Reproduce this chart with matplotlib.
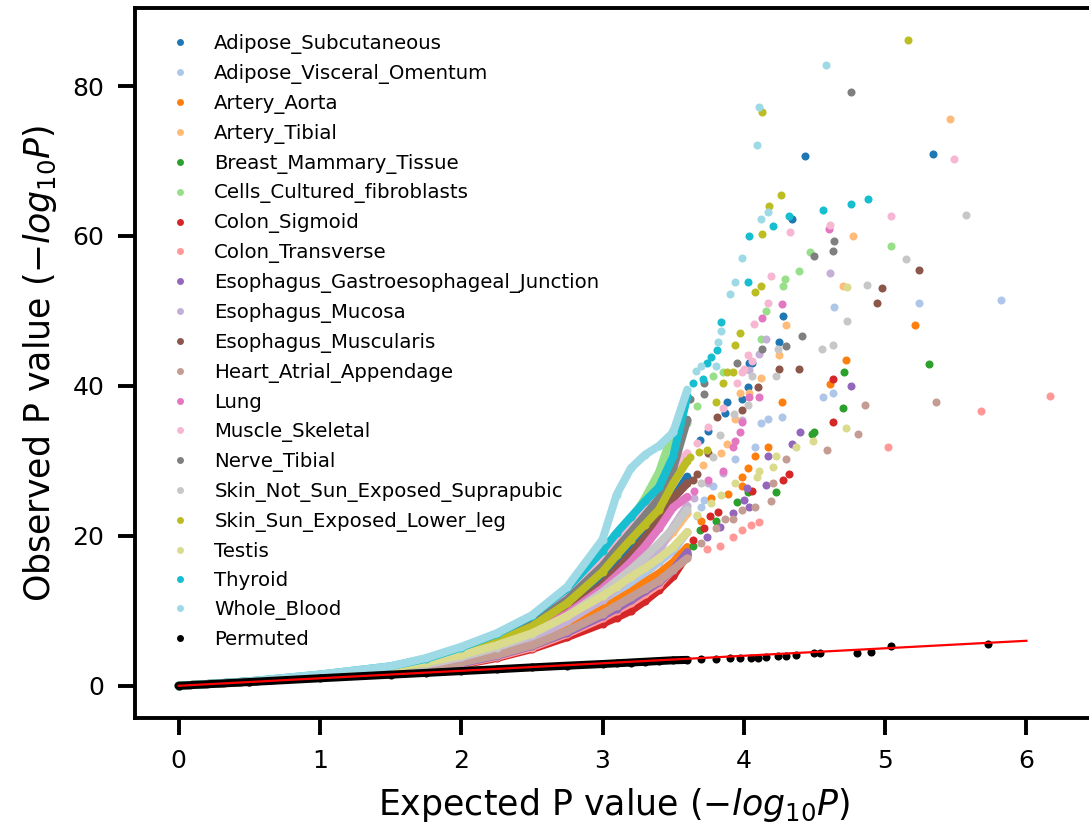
import matplotlib
matplotlib.use("Agg")
import matplotlib.pyplot as plt
from matplotlib.lines import Line2D

# Expected -log10(P) positions at which the dense part of each QQ curve is sampled
band_x = [0.0, 0.5, 1.0, 1.5, 1.75, 2.0, 2.25, 2.5, 2.75, 3.0, 3.1, 3.2, 3.3, 3.4, 3.5, 3.6]

tissues = [
    "Adipose_Subcutaneous", "Adipose_Visceral_Omentum", "Artery_Aorta", "Artery_Tibial",
    "Breast_Mammary_Tissue", "Cells_Cultured_fibroblasts", "Colon_Sigmoid", "Colon_Transverse",
    "Esophagus_Gastroesophageal_Junction", "Esophagus_Mucosa", "Esophagus_Muscularis",
    "Heart_Atrial_Appendage", "Lung", "Muscle_Skeletal", "Nerve_Tibial",
    "Skin_Not_Sun_Exposed_Suprapubic", "Skin_Sun_Exposed_Lower_leg", "Testis", "Thyroid",
    "Whole_Blood",
]

# Observed -log10(P) along band_x, one list per tissue
adipose_subcutaneous_band = [0, 0.56, 1.3, 2.2, 2.9, 4.0, 5.5, 7.4, 10.3, 14.0, 16.2, 18.5, 20.4, 22.5, 25.0, 27.9]
adipose_visceral_band = [0, 0.55, 1.22, 1.95, 2.55, 3.4, 4.5, 6.0, 8.2, 10.8, 12.1, 13.5, 15.0, 16.5, 18.0, 20.5]
artery_aorta_band = [0, 0.55, 1.2, 1.9, 2.45, 3.2, 4.3, 5.7, 7.7, 10.2, 11.4, 12.5, 13.8, 15.0, 16.5, 18.5]
artery_tibial_band = [0, 0.55, 1.25, 2.05, 2.7, 3.6, 4.9, 6.5, 8.9, 12.0, 13.5, 15.0, 16.6, 18.5, 20.5, 23.0]
breast_band = [0, 0.55, 1.18, 1.8, 2.3, 2.95, 3.9, 5.2, 7.0, 9.2, 10.2, 11.2, 12.3, 13.5, 15.0, 17.5]
fibroblasts_band = [0, 0.58, 1.4, 2.4, 3.3, 4.6, 6.3, 8.6, 12.2, 17.0, 19.6, 22.0, 25.0, 28.5, 34.0, 35.0]
colon_sigmoid_band = [0, 0.55, 1.15, 1.75, 2.2, 2.8, 3.7, 4.9, 6.5, 8.3, 9.1, 10.0, 11.3, 12.8, 14.6, 17.5]
colon_transverse_band = [0, 0.55, 1.18, 1.8, 2.3, 2.9, 3.85, 5.1, 6.9, 9.0, 10.0, 11.0, 12.2, 13.5, 15.5, 17.2]
esophagus_gej_band = [0, 0.55, 1.18, 1.82, 2.35, 3.0, 4.0, 5.3, 7.1, 9.3, 10.3, 11.4, 12.6, 13.8, 15.5, 17.8]
esophagus_mucosa_band = [0, 0.55, 1.25, 2.0, 2.65, 3.5, 4.7, 6.3, 8.6, 11.5, 13.0, 14.5, 16.2, 18.0, 21.2, 24.0]
esophagus_muscularis_band = [0, 0.56, 1.3, 2.15, 2.85, 3.9, 5.3, 7.1, 9.9, 13.5, 15.5, 17.5, 19.7, 22.0, 25.0, 27.0]
heart_atrial_band = [0, 0.55, 1.2, 1.85, 2.4, 3.1, 4.1, 5.4, 7.3, 9.6, 10.7, 11.8, 12.9, 14.0, 15.5, 17.0]
lung_band = [0, 0.56, 1.28, 2.1, 2.8, 3.8, 5.2, 7.0, 9.6, 13.0, 14.7, 16.5, 18.6, 21.0, 23.8, 25.2]
muscle_skeletal_band = [0, 0.58, 1.4, 2.4, 3.3, 4.6, 6.3, 8.5, 12.0, 16.5, 19.0, 21.5, 24.0, 26.5, 29.0, 31.0]
nerve_tibial_band = [0, 0.57, 1.35, 2.3, 3.1, 4.4, 6.0, 8.2, 11.5, 16.0, 18.3, 20.5, 22.7, 25.0, 29.0, 35.5]
skin_not_sun_band = [0, 0.56, 1.28, 2.1, 2.8, 3.8, 5.1, 6.8, 9.3, 12.5, 14.0, 15.5, 17.2, 19.0, 21.0, 23.5]
skin_sun_band = [0, 0.57, 1.35, 2.3, 3.1, 4.3, 5.9, 7.9, 11.0, 15.2, 17.4, 19.5, 21.5, 23.5, 27.0, 30.0]
testis_band = [0, 0.58, 1.4, 2.35, 3.1, 4.1, 5.4, 7.0, 9.3, 12.0, 13.2, 14.5, 15.7, 17.0, 18.5, 20.5]
thyroid_band = [0, 0.6, 1.5, 2.6, 3.6, 5.1, 6.9, 9.3, 13.0, 18.0, 20.4, 22.5, 24.6, 26.5, 30.6, 38.6]
whole_blood_band = [0, 0.6, 1.5, 2.6, 3.7, 5.2, 7.0, 9.4, 13.2, 19.5, 25.5, 29.0, 30.8, 32.0, 33.8, 39.5]

# Sparse upper tail of each curve: (expected, observed) pairs
adipose_subcutaneous_tail = [(3.69, 32.8), (3.75, 34.0), (3.87, 36.4), (3.88, 37.8), (3.99, 38.2),
                             (4.03, 39.8), (4.04, 43.1), (4.06, 43.0), (4.25, 45.9), (4.28, 49.3),
                             (4.34, 62.2), (4.43, 70.6), (5.34, 70.9)]
adipose_visceral_tail = [(3.67, 22.6), (3.7, 23.8), (3.72, 24.8), (3.78, 26.6), (3.94, 30.2),
                         (4.08, 31.8), (4.12, 35.0), (4.17, 35.6), (4.27, 35.9), (4.56, 38.5),
                         (4.63, 39.1), (4.64, 50.5), (5.24, 51.0), (5.82, 51.4)]
artery_aorta_tail = [(3.7, 22.0), (3.77, 25.1), (3.89, 25.6), (3.99, 26.6), (3.99, 27.9),
                     (4.03, 29.1), (4.08, 30.7), (4.17, 31.9), (4.27, 37.8), (4.61, 40.2),
                     (4.72, 43.4), (5.21, 48.1)]
artery_tibial_tail = [(3.71, 29.5), (3.84, 31.1), (3.88, 32.2), (3.94, 35.6), (3.97, 39.0),
                      (4.04, 39.1), (4.12, 41.1), (4.25, 44.1), (4.3, 48.1), (4.7, 53.3),
                      (4.77, 60.0), (5.46, 75.6)]
breast_tail = [(3.64, 18.6), (3.69, 20.8), (3.8, 22.0), (3.95, 24.5), (4.03, 25.9),
               (4.23, 25.9), (4.48, 33.6), (4.5, 33.8), (4.7, 37.1), (4.71, 41.8), (5.31, 42.9)]
fibroblasts_tail = [(3.67, 37.3), (3.78, 41.3), (3.85, 41.8), (4.12, 46.3), (4.16, 50.0),
                    (4.28, 53.3), (4.29, 54.3), (4.39, 55.3), (4.47, 57.8), (5.04, 58.7)]
colon_sigmoid_tail = [(3.64, 19.5), (3.72, 21.0), (3.76, 22.6), (3.82, 23.2), (4.06, 26.0),
                      (4.28, 27.5), (4.32, 28.2), (4.63, 35.2), (4.63, 40.9)]
colon_transverse_tail = [(3.74, 18.2), (3.83, 18.6), (3.92, 19.8), (3.99, 20.8), (4.05, 21.4),
                         (4.11, 21.9), (5.02, 31.9), (5.68, 36.6), (6.17, 38.6)]
esophagus_gej_tail = [(3.74, 19.9), (3.83, 21.2), (3.92, 23.1), (4.0, 24.8), (4.02, 26.4),
                      (4.04, 23.9), (4.16, 26.8), (4.17, 30.6), (4.34, 32.2), (4.4, 33.8),
                      (4.76, 40.0)]
esophagus_mucosa_tail = [(3.65, 25.0), (3.75, 27.0), (3.85, 28.4), (3.99, 35.5), (4.04, 42.1),
                         (4.11, 44.3), (4.16, 46.2), (4.61, 55.1)]
esophagus_muscularis_tail = [(3.64, 27.5), (3.67, 28.2), (3.75, 31.0), (3.81, 35.9), (3.99, 36.8),
                             (4.1, 39.9), (4.25, 42.3), (4.39, 42.3), (4.94, 51.0), (4.98, 53.0),
                             (5.24, 55.4)]
heart_atrial_tail = [(3.7, 19.0), (3.8, 21.0), (3.87, 22.2), (3.92, 22.2), (3.99, 23.5),
                     (4.08, 23.9), (4.19, 24.6), (4.21, 27.1), (4.3, 30.2), (4.59, 31.5),
                     (4.81, 33.6), (4.86, 37.5), (5.36, 37.8)]
lung_tail = [(3.65, 26.0), (3.75, 27.5), (3.85, 28.6), (3.92, 31.9), (3.94, 32.6), (3.97, 33.8),
             (3.99, 35.2), (4.04, 38.5), (4.11, 38.5), (4.13, 49.0), (4.27, 50.9), (4.6, 60.9)]
muscle_skeletal_tail = [(3.67, 32.4), (3.75, 34.5), (3.85, 37.0), (3.95, 40.4), (3.99, 41.9),
                        (4.0, 42.2), (4.03, 44.1), (4.06, 43.3), (4.07, 48.3), (4.17, 51.0),
                        (4.19, 54.6), (4.33, 60.5), (4.61, 61.5), (5.04, 62.7), (5.49, 70.2)]
nerve_tibial_tail = [(3.62, 38.2), (3.72, 38.9), (3.72, 40.4), (3.95, 43.1), (4.13, 44.9),
                     (4.3, 45.3), (4.41, 46.6), (4.5, 57.3), (4.63, 58.0), (4.64, 59.3),
                     (4.76, 79.2)]
skin_not_sun_tail = [(3.7, 27.0), (3.78, 30.5), (3.83, 33.4), (3.93, 36.3), (4.03, 37.5),
                     (4.06, 41.3), (4.23, 41.3), (4.24, 44.9), (4.55, 44.9), (4.63, 45.5),
                     (4.73, 48.7), (4.87, 53.5), (5.15, 56.9), (5.57, 62.8)]
skin_sun_tail = [(3.62, 30.5), (3.68, 31.2), (3.74, 31.5), (3.8, 37.8), (3.85, 40.4),
                 (3.88, 41.8), (3.92, 41.8), (3.94, 45.5), (3.97, 47.1), (4.08, 52.5),
                 (4.12, 53.3), (4.13, 60.3), (4.18, 64.0), (4.26, 65.4), (4.13, 76.6),
                 (5.16, 86.1)]
testis_tail = [(3.67, 22.8), (3.77, 24.4), (3.84, 25.5), (3.94, 27.1), (4.09, 27.8),
               (4.11, 28.6), (4.21, 29.2), (4.23, 30.6), (4.37, 31.8), (4.49, 32.6),
               (4.72, 34.4), (4.73, 53.2)]
thyroid_tail = [(3.64, 40.4), (3.71, 40.9), (3.74, 43.1), (3.77, 43.8), (3.81, 44.8),
                (3.84, 48.5), (4.03, 53.8), (4.04, 60.0), (4.21, 61.3), (4.32, 62.6),
                (4.56, 63.4), (4.76, 64.2), (4.88, 64.9)]
whole_blood_tail = [(3.66, 42.0), (3.7, 42.7), (3.8, 42.7), (3.82, 45.8), (3.84, 47.3),
                    (3.9, 52.3), (3.94, 53.9), (3.99, 57.0), (4.09, 72.1), (4.12, 62.2),
                    (4.17, 63.2), (4.11, 77.2), (4.58, 82.8)]

# Permuted (null) statistics
permuted_band = [0, 0.5, 1.0, 1.48, 1.72, 1.96, 2.2, 2.45, 2.68, 2.9, 3.0, 3.1, 3.2, 3.3, 3.4, 3.45]
permuted_tail = [(3.7, 3.55), (3.8, 3.6), (3.9, 3.65), (3.97, 3.7), (4.05, 3.75), (4.1, 3.75),
                 (4.16, 3.8), (4.24, 3.95), (4.3, 4.0), (4.37, 4.05), (4.5, 4.35), (4.54, 4.35),
                 (4.8, 4.4), (4.9, 4.55), (5.04, 5.3), (5.73, 5.6)]

# Reference diagonal (expected == observed)
diag_x = [0, 6]
diag_y = [0, 6]

bands = [adipose_subcutaneous_band, adipose_visceral_band, artery_aorta_band, artery_tibial_band,
         breast_band, fibroblasts_band, colon_sigmoid_band, colon_transverse_band,
         esophagus_gej_band, esophagus_mucosa_band, esophagus_muscularis_band, heart_atrial_band,
         lung_band, muscle_skeletal_band, nerve_tibial_band, skin_not_sun_band, skin_sun_band,
         testis_band, thyroid_band, whole_blood_band]
tails = [adipose_subcutaneous_tail, adipose_visceral_tail, artery_aorta_tail, artery_tibial_tail,
         breast_tail, fibroblasts_tail, colon_sigmoid_tail, colon_transverse_tail,
         esophagus_gej_tail, esophagus_mucosa_tail, esophagus_muscularis_tail, heart_atrial_tail,
         lung_tail, muscle_skeletal_tail, nerve_tibial_tail, skin_not_sun_tail, skin_sun_tail,
         testis_tail, thyroid_tail, whole_blood_tail]

colors = plt.get_cmap("tab20").colors

fig = plt.figure(figsize=(10.89, 8.36), dpi=100)
ax = fig.add_axes([0.124, 0.1411, 0.8806, 0.8493])

MS = 5.8
for name, band, tail, col in zip(tissues, bands, tails, colors):
    ax.plot(band_x, band, color=col, lw=MS, solid_capstyle="round",
            solid_joinstyle="round", marker="o", ms=MS, mew=0)
    ax.plot([p[0] for p in tail], [p[1] for p in tail], color=col, ls="none",
            marker="o", ms=MS, mew=0)

ax.plot(band_x, permuted_band, color="black", lw=MS, solid_capstyle="round",
        solid_joinstyle="round", marker="o", ms=MS, mew=0)
ax.plot([p[0] for p in permuted_tail], [p[1] for p in permuted_tail], color="black",
        ls="none", marker="o", ms=MS, mew=0)
ax.plot(diag_x, diag_y, color="red", lw=1.6, zorder=5)

ax.margins(0.05)

for side in ("left", "bottom", "top"):
    ax.spines[side].set_linewidth(2.8)
ax.spines["right"].set_visible(False)
ax.tick_params(axis="both", length=12, width=2.8, labelsize=18, pad=10)
ax.set_xticks([0, 1, 2, 3, 4, 5, 6])
ax.set_yticks([0, 20, 40, 60, 80])

ax.set_xlabel("Expected P value ($-log_{10}P$)", fontsize=25, labelpad=10)
ax.set_ylabel("Observed P value ($-log_{10}P$)", fontsize=25, labelpad=10)

handles = [Line2D([], [], ls="none", marker="o", ms=5, mew=0, color=c) for c in colors]
handles.append(Line2D([], [], ls="none", marker="o", ms=5, mew=0, color="black"))
labels = tissues + ["Permuted"]
ax.legend(handles, labels, loc="upper left", frameon=False, fontsize=14.2,
          borderaxespad=0.9, labelspacing=0.505, handletextpad=0.72)

fig.savefig("out.png", dpi=100)
